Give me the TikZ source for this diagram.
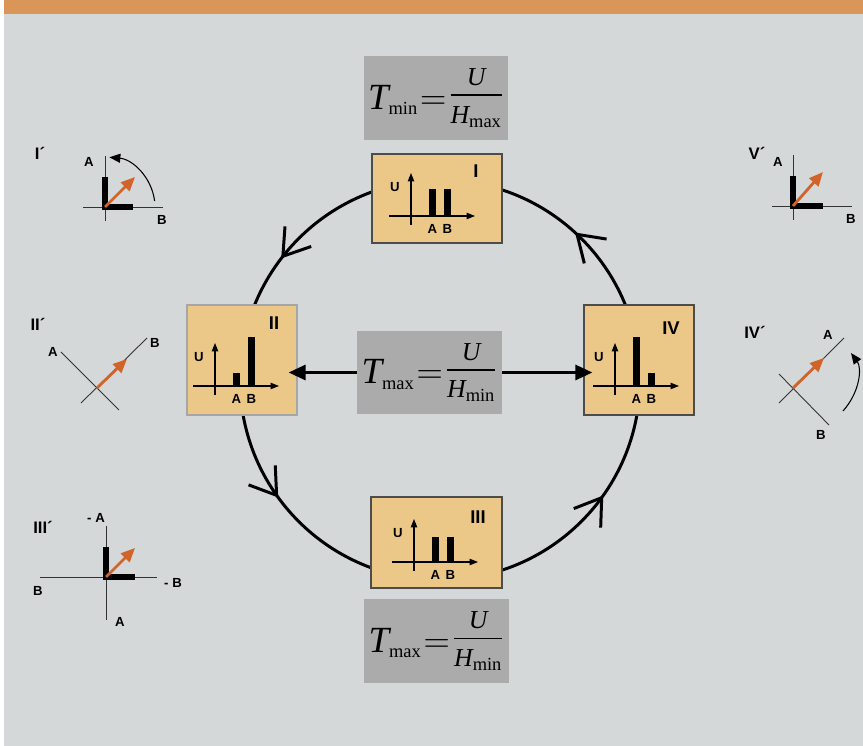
\documentclass[tikz,border=0pt]{standalone}
\usepackage{amsmath}
\usepackage{fontspec}
\setmainfont{Liberation Serif}
\setsansfont{Liberation Sans}
\usetikzlibrary{arrows.meta,decorations.markings}

\definecolor{panelgray}{HTML}{D4D8D9}
\definecolor{headorange}{HTML}{DA9659}
\definecolor{boxtan}{HTML}{EBC887}
\definecolor{formgray}{HTML}{ABABAB}
\definecolor{vecorange}{HTML}{D2642A}

\begin{document}
\begin{tikzpicture}[x=0.02cm,y=-0.02cm,
    lbl/.style={inner sep=0pt,font=\sffamily\bfseries\fontsize{7.5}{9}\selectfont},
    numeral/.style={inner sep=0pt,font=\sffamily\bfseries\fontsize{10.5}{12}\selectfont},
    primelbl/.style={inner sep=0pt,font=\sffamily\bfseries\fontsize{9.5}{11}\selectfont},
    chartbox/.style={draw=black!70,line width=0.7pt,fill=boxtan,inner sep=0pt},
    formbox/.style={fill=formgray,inner sep=0pt,minimum width=2.9cm,minimum height=1.68cm,
      font=\fontsize{21}{25}\selectfont},
    chartaxis/.style={-{Triangle[length=0.17cm,width=0.13cm]},line width=0.6pt},
    thinaxis/.style={line width=0.5pt,black!80},
    magbar/.style={line width=0.12cm,line join=miter},
    vecarrow/.style={-{Triangle[length=0.28cm,width=0.24cm]},line width=1.6pt,vecorange},
    rotarrow/.style={-{Triangle[length=0.22cm,width=0.18cm]},line width=0.6pt},
    linkarrow/.style={-{Triangle[length=0.34cm,width=0.3cm]},line width=1.7pt,shorten >=-0.18cm},
    loopcircle/.style={line width=1.7pt,postaction={decorate},decoration={markings,
      mark=at position 0.132 with {\arrow{Straight Barb[length=0.5cm,width=0.66cm]}},
      mark=at position 0.396 with {\arrow{Straight Barb[length=0.5cm,width=0.66cm]}},
      mark=at position 0.600 with {\arrow{Straight Barb[length=0.5cm,width=0.66cm]}},
      mark=at position 0.902 with {\arrow{Straight Barb[length=0.5cm,width=0.66cm]}}}}
  ]
  % background
  \fill[white] (0,0) rectangle (863,746);
  \fill[panelgray] (4,14) rectangle (863,746);
  \fill[headorange] (4,0) rectangle (863,14);
  \useasboundingbox (0,0) rectangle (863,746);

  % cycle
  \draw[loopcircle] (440,380) circle[radius=4cm];

  % state boxes
  \node[chartbox,minimum width=2.6cm,minimum height=1.78cm] (boxI) at (437,198.5) {};
  \node[chartbox,draw=black!35,minimum width=2.2cm,minimum height=2.2cm] (boxII) at (242,360) {};
  \node[chartbox,minimum width=2.2cm,minimum height=2.2cm] (boxIV) at (639,360) {};
  \node[chartbox,minimum width=2.62cm,minimum height=1.82cm] (boxIII) at (436.5,542.5) {};

  \foreach \ox/\oy/\ha/\hb [count=\i] in {411/216/27/27, 215/386/13/49, 615/386/49/13, 414/562/25/25}{
    \draw[chartaxis] (\ox-22,\oy) -- (\ox+64,\oy);
    \draw[chartaxis] (\ox,\oy+9) -- (\ox,\oy-43);
    \fill (\ox+18,\oy) rectangle (\ox+25,\oy-\ha);
    \fill (\ox+33,\oy) rectangle (\ox+40,\oy-\hb);
    \node[lbl] (labA\i) at (\ox+21.5,\oy+13) {A};
    \node[lbl] (labB\i) at (\ox+36.5,\oy+13) {B};
    \node[lbl] (labU\i) at (\ox-16,\oy-29) {U};
  }
  \node[numeral] (numI) at (476,171) {I};
  \node[numeral] (numII) at (274,323) {II};
  \node[numeral] (numIV) at (671,328) {IV};
  \node[numeral] (numIII) at (478,517) {III};

  % formulas
  \node[formbox] (formTop) at (436,98)
    {$\mathit{T}_{\scriptscriptstyle\mathrm{min}}\mkern1mu{=}\mkern1mu\raisebox{0.1cm}{$\frac{\mathit{U}\rule[-0.15cm]{0pt}{0.2cm}}{\rule{0pt}{0.52cm}\mathit{H}_{\mathrm{max}}}$}$};
  \node[formbox,minimum height=1.66cm] (formMid) at (429.5,372.5)
    {$\mathit{T}_{\scriptscriptstyle\mathrm{max}}\mkern1mu{=}\mkern1mu\raisebox{0.1cm}{$\frac{\mathit{U}\rule[-0.15cm]{0pt}{0.2cm}}{\rule{0pt}{0.52cm}\mathit{H}_{\mathrm{min}}}$}$};
  \node[formbox] (formBot) at (436.5,641)
    {$\mathit{T}_{\scriptscriptstyle\mathrm{max}}\mkern1mu{=}\mkern1mu\raisebox{0.1cm}{$\frac{\mathit{U}\rule[-0.15cm]{0pt}{0.2cm}}{\rule{0pt}{0.52cm}\mathit{H}_{\mathrm{min}}}$}$};

  \draw[linkarrow] (formMid.west) -- (formMid.west -| boxII.east);
  \draw[linkarrow] (formMid.east) -- (formMid.east -| boxIV.west);

  % I'
  \node[primelbl] (pI) at (40,153) {I´};
  \draw[thinaxis] (105,156) -- (105,221);
  \draw[thinaxis] (83,207) -- (163,207);
  \draw[magbar] (105,177) -- (105,207) -- (133,207);
  \draw[vecarrow] (105,207) -- (135,177);
  \draw[rotarrow] (154.6,201) arc[start angle=7,end angle=85,radius=1cm];
  \node[lbl] (pIa) at (89,162) {A};
  \node[lbl] (pIb) at (162,220) {B};

  % II'
  \node[primelbl] (pII) at (38,324) {II´};
  \draw[thinaxis] (61,352) -- (119,410);
  \draw[thinaxis] (81,403) -- (147,338);
  \draw[vecarrow] (97,388) -- (127,359);
  \node[lbl] (pIIa) at (53,352) {A};
  \node[lbl] (pIIb) at (155,343) {B};

  % III'
  \node[primelbl] (pIII) at (43,527) {III´};
  \draw[thinaxis] (106,526) -- (106,620);
  \draw[thinaxis] (40,577) -- (157,577);
  \draw[magbar] (106,547) -- (106,577) -- (135,577);
  \draw[vecarrow] (106,577) -- (135,548);
  \node[lbl] (pIIIma) at (96,518) {- A};
  \node[lbl] (pIIImb) at (173,583) {- B};
  \node[lbl] (pIIIb) at (38,591) {B};
  \node[lbl] (pIIIa) at (120,622) {A};

  % V'
  \node[primelbl] (pV) at (757,153) {V´};
  \draw[thinaxis] (793,155) -- (793,220);
  \draw[thinaxis] (772,206) -- (852,206);
  \draw[magbar] (793,176) -- (793,206) -- (823,206);
  \draw[vecarrow] (793,206) -- (823,172);
  \node[lbl] (pVa) at (778,162) {A};
  \node[lbl] (pVb) at (851,219) {B};

  % IV'
  \node[primelbl] (pIV) at (755,332) {IV´};
  \draw[thinaxis] (779,403) -- (844,338);
  \draw[thinaxis] (779,374) -- (829,425);
  \draw[vecarrow] (793,388) -- (824,358);
  \draw[rotarrow] (843,411) .. controls (860,392) and (862,368) .. (851,353);
  \node[lbl] (pIVa) at (828,335) {A};
  \node[lbl] (pIVb) at (821,435) {B};
\end{tikzpicture}
\end{document}
